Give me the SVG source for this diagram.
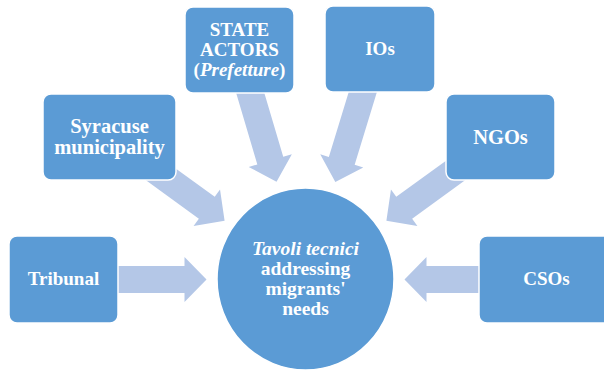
<svg xmlns="http://www.w3.org/2000/svg" width="604" height="372" viewBox="0 0 604 372">
  <defs>
    <style>
      .box { fill: #5B9BD5; stroke: #FFFFFF; stroke-width: 1.5; }
      .arrow { fill: #B4C7E7; }
      text { font-family: 'Liberation Serif', 'DejaVu Serif', serif; font-weight: bold; fill: #FFFFFF; text-anchor: middle; font-size: 19px; }
      .big { font-size: 20.5px; }
      .it { font-style: italic; }
    </style>
    <path id="arr" d="M-200,-13.5 L-121,-13.5 L-121,-22.5 L-99,0 L-121,22.5 L-121,13.5 L-200,13.5 Z"/>
  </defs>
  <rect width="604" height="372" fill="#FFFFFF"/>
  <g id="connectors">
    <use href="#arr" class="arrow" transform="translate(305.5,279.5) rotate(0)"/>
    <use href="#arr" class="arrow" transform="translate(305.5,279.5) rotate(36) translate(-1,0)"/>
    <use href="#arr" class="arrow" transform="translate(305.5,279.5) rotate(73.5) translate(-3,0)"/>
    <use href="#arr" class="arrow" transform="translate(305.5,279.5) rotate(107) translate(-3,0)"/>
    <use href="#arr" class="arrow" transform="translate(305.5,279.5) rotate(144) translate(-1,0)"/>
    <use href="#arr" class="arrow" transform="translate(305.5,279.5) rotate(180)"/>
  </g>
  <g id="center">
    <ellipse cx="305.5" cy="279" rx="88.5" ry="91" class="box"/>
    <text class="it" x="305.5" y="254.5" font-family="Liberation Serif, serif" style="font-size:19.5px">Tavoli tecnici</text>
    <text x="305.5" y="275" font-family="Liberation Serif, serif" style="font-size:19.5px">addressing</text>
    <text x="305.5" y="295" font-family="Liberation Serif, serif" style="font-size:19.5px">migrants'</text>
    <text x="305.5" y="315" font-family="Liberation Serif, serif" style="font-size:19.5px">needs</text>
  </g>
  <g id="tribunal">
    <rect x="9" y="236" width="109" height="87" rx="8" class="box"/>
    <text x="63.5" y="285" font-family="Liberation Serif, serif">Tribunal</text>
  </g>
  <g id="syracuse">
    <rect x="43" y="94" width="133" height="86" rx="8" class="box"/>
    <text class="big" x="109.5" y="132.5" font-family="Liberation Serif, serif">Syracuse</text>
    <text class="big" x="109.5" y="154" font-family="Liberation Serif, serif">municipality</text>
  </g>
  <g id="state-actors">
    <rect x="185" y="7" width="109" height="86" rx="8" class="box"/>
    <text x="239.5" y="36" font-family="Liberation Serif, serif">STATE</text>
    <text x="239.5" y="56" font-family="Liberation Serif, serif">ACTORS</text>
    <text x="239.5" y="76" font-family="Liberation Serif, serif">(<tspan class="it">Prefetture</tspan>)</text>
  </g>
  <g id="ios">
    <rect x="325" y="6" width="110" height="86" rx="8" class="box"/>
    <text x="380" y="55" font-family="Liberation Serif, serif">IOs</text>
  </g>
  <g id="ngos">
    <rect x="446" y="94" width="109" height="86" rx="8" class="box"/>
    <text class="big" x="500.5" y="144" font-family="Liberation Serif, serif">NGOs</text>
  </g>
  <g id="csos">
    <rect x="479" y="236" width="136" height="87" rx="8" class="box"/>
    <text x="546.5" y="285" font-family="Liberation Serif, serif">CSOs</text>
  </g>
</svg>
